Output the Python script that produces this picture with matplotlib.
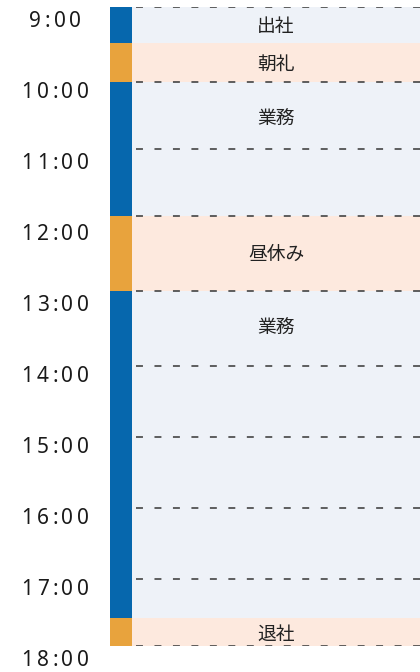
import matplotlib.pyplot as plt
from matplotlib import transforms

plt.rcParams['font.family'] = ['Noto Sans CJK JP', 'DejaVu Sans']
plt.rcParams['lines.scale_dashes'] = False

# schedule blocks (hours)
labels = ['出社', '朝礼', '業務', '昼休み', '業務', '退社']
starts = [9.0, 9.5, 10.05, 11.95, 13.0, 17.6]
ends = [9.5, 10.05, 11.95, 13.0, 17.6, 18.0]
kinds = ['work', 'break', 'work', 'break', 'work', 'break']

# dashed separators and time ticks
grid_hours = [9.0, 10.05, 11.0, 11.95, 13.0, 14.05, 15.05, 16.05, 17.05, 18.0]
tick_hours = [9, 10, 11, 12, 13, 14, 15, 16, 17, 18]
tick_labels = ['%d:00' % h for h in tick_hours]

strip_col = {'work': '#0667ad', 'break': '#e8a33d'}
panel_col = {'work': '#eef2f8', 'break': '#fde9de'}

W, H = 420, 672
fig = plt.figure(figsize=(W / 100, H / 100), dpi=100)
ax = fig.add_axes([110 / W, 1 - 646 / H, 310 / W, 639 / H])
ax.set_xlim(0, 310)
ax.set_ylim(18, 9)
ax.axis('off')

strip_w = 22
for s, e, k, lab in zip(starts, ends, kinds, labels):
    ax.barh(s, strip_w, height=e - s, left=0, align='edge', color=strip_col[k], linewidth=0)
    ax.barh(s, 310 - strip_w, height=e - s, left=strip_w, align='edge', color=panel_col[k], linewidth=0)
    yc = s + min(e - s, 1.0) / 2 + 0.03
    ax.text(strip_w + (310 - strip_w) / 2, yc, lab, ha='center', va='center',
            fontsize=13.5, color='#222222')

for g in grid_hours:
    ax.plot([strip_w + 4, 310], [g, g], color='#444444', lw=1.2,
            linestyle=(0, (5.0, 8.3)), solid_capstyle='butt')


# time labels with wide letter spacing, drawn char by char
def spaced_text(x, y, s, size=15, track=2.6):
    adv = [0.26 * size if c == ':' else 0.572 * size for c in s]
    total = sum(adv) + track * (len(s) - 1)
    pos = -total / 2
    for c, a in zip(s, adv):
        tr = transforms.offset_copy(ax.transData, fig=fig, x=pos + a / 2, y=0, units='points')
        ax.text(x, y, c, transform=tr, ha='center', va='center', fontsize=size,
                color='#1a1a1a', family=['Noto Sans', 'DejaVu Sans'], clip_on=False)
        pos += a + track


for h, t in zip(tick_hours, tick_labels):
    spaced_text(-55, h + 0.21, t)

fig.savefig('out.png', dpi=100)
